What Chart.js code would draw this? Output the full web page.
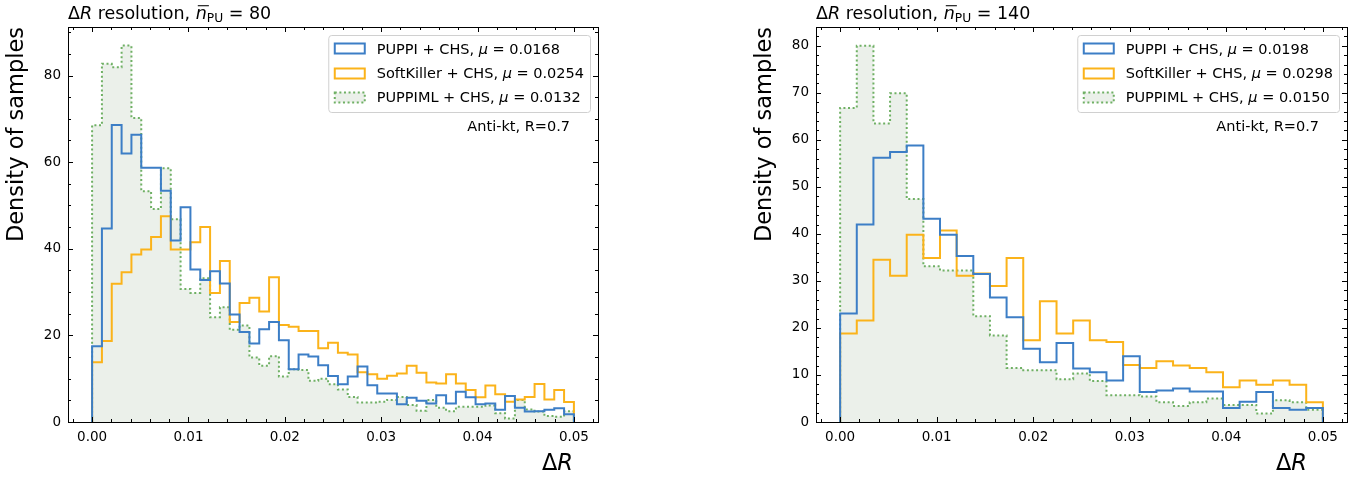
<!DOCTYPE html>
<html>
<head>
<meta charset="utf-8">
<title>ΔR resolution</title>
<script src="https://cdn.jsdelivr.net/npm/chart.js@4.4.1/dist/chart.umd.min.js"></script>
<style>
  body { margin: 0; background: #fff; }
  #wrap { position: relative; width: 1366px; height: 477px; overflow: hidden; }
  #wrap canvas { position: absolute; top: 0; }
</style>
</head>
<body>
<div id="wrap">
  <canvas id="pu80" width="683" height="477" style="left:0"></canvas>
  <canvas id="pu140" width="618" height="477" style="left:748px"></canvas>
</div>
<script>
const FAMILY = '"DejaVu Sans", sans-serif';

// histogram range (bins are equal width between these edges)
const rangeLo = 0;
const rangeHi = 0.05;

const seriesNames = ['PUPPI + CHS', 'SoftKiller + CHS', 'PUPPIML + CHS'];
const seriesColors = ['#3c7ec6', '#fbb31a', '#6fb064'];
const fillGreen = '#ebf0ea';

// <n_PU> = 80, 49 bins
const puppi80 = [17.5, 44.7, 68.6, 62, 66.3, 58.7, 58.7, 53.4, 41.9, 49.6,
  35.2, 32.8, 34.8, 32, 24.8, 20.8, 18.1, 21.4, 23.1, 18.9,
  12.2, 15.6, 15.1, 13.1, 10.6, 8.7, 10.5, 12.8, 8.5, 6.6,
  6.6, 4.1, 5.6, 4.9, 4.3, 6.2, 4.3, 7, 5.7, 4.1,
  4.3, 2.8, 6, 3.3, 2.4, 2.5, 2.8, 3.2, 1.8];
const softKiller80 = [13.8, 18.7, 31.9, 34.6, 38.7, 39.8, 42.7, 47.5, 39.8, 39.8,
  41.5, 45, 29.8, 37.2, 23.1, 27.5, 28.7, 25.5, 33.4, 22.4,
  22, 21, 21, 17, 18.3, 16, 15.6, 11.5, 11, 10,
  10.7, 11.2, 13, 11.4, 9.1, 8.9, 11, 8.9, 7.4, 5.7,
  8.4, 6.4, 4.7, 5.2, 5.8, 8.8, 5.2, 7.4, 4.6];
const puppiml80 = [68.5, 82.7, 81.9, 86.9, 70.2, 53.3, 49.2, 58.6, 46.8, 30.7,
  29.8, 33.2, 24.2, 26.5, 21.3, 22.3, 14.9, 13, 15.2, 10.5,
  12.2, 12, 9.5, 10, 8.7, 7.5, 5.8, 4.5, 4.5, 4.7,
  5.1, 5.8, 3.9, 2.6, 5.1, 3.3, 2.5, 3.5, 3.5, 3.5,
  3.8, 2, 0.8, 5.1, 2.9, 2.4, 1.4, 1.2, 2.5];
const means80 = ['0.0168', '0.0254', '0.0132'];

// <n_PU> = 140, 29 bins
const puppi140 = [23.1, 42, 56.2, 57.4, 58.8, 43.2, 39.8, 35.3, 31.5, 26.5,
  22.3, 15.6, 12.7, 16.8, 11.4, 10.6, 8.8, 14, 6.4, 6.7,
  7.1, 6.5, 6.5, 3, 4.3, 6.4, 3, 2.6, 3];
const softKiller140 = [18.8, 21.6, 34.5, 31.1, 39.8, 34.9, 40.7, 31.1, 31.6, 28.9,
  34.9, 17.4, 25.7, 18.8, 21.6, 17.4, 17, 12.1, 11.5, 12.9,
  12, 11.5, 10.6, 7.4, 8.8, 7.9, 8.8, 7.9, 4.2];
const puppiml140 = [66.8, 80, 63.5, 69.9, 47.4, 33.1, 32.2, 32.2, 22.5, 18.4,
  11.5, 11, 11, 9.1, 10.3, 8.7, 5.7, 5.7, 5.4, 4.2,
  3.4, 4.2, 5, 3.6, 3.6, 1.8, 4.6, 4.2, 2.6];
const means140 = ['0.0198', '0.0298', '0.0150'];

// axis ticks
const xTicks = [0, 0.01, 0.02, 0.03, 0.04, 0.05];
const xMinor = [-0.002, 0, 0.002, 0.004, 0.006, 0.008, 0.01, 0.012, 0.014, 0.016, 0.018, 0.02,
  0.022, 0.024, 0.026, 0.028, 0.03, 0.032, 0.034, 0.036, 0.038, 0.04, 0.042, 0.044,
  0.046, 0.048, 0.05, 0.052];
const yTicks80 = [0, 20, 40, 60, 80];
const yMinor80 = [0, 5, 10, 15, 20, 25, 30, 35, 40, 45, 50, 55, 60, 65, 70, 75, 80, 85, 90];
const yTicks140 = [0, 10, 20, 30, 40, 50, 60, 70, 80];
const yMinor140 = [0, 2, 4, 6, 8, 10, 12, 14, 16, 18, 20, 22, 24, 26, 28, 30, 32, 34, 36, 38, 40,
  42, 44, 46, 48, 50, 52, 54, 56, 58, 60, 62, 64, 66, 68, 70, 72, 74, 76, 78, 80, 82];

// outline of a histogram as step points (left edges + closing drop)
function histSteps(heights) {
  const n = heights.length;
  const w = (rangeHi - rangeLo) / n;
  const pts = [{ x: rangeLo, y: 0 }];
  heights.forEach((h, i) => pts.push({ x: rangeLo + i * w, y: h }));
  pts.push({ x: rangeHi, y: heights[n - 1] }, { x: rangeHi, y: 0 });
  return pts;
}

function fontStr(size, italic) {
  return (italic ? 'italic ' : '') + size + 'px ' + FAMILY;
}

// draws text made of plain / italic / subscript / overlined pieces
function drawRich(ctx, x, y, segs, size, align) {
  const parts = segs.map(s => {
    const sz = s.sub ? size * 0.7 : size;
    const f = fontStr(sz, s.it);
    ctx.font = f;
    return Object.assign({}, s, { f: f, w: ctx.measureText(s.t).width });
  });
  const total = parts.reduce((a, p) => a + p.w, 0);
  let cx = align === 'right' ? x - total : x;
  ctx.textAlign = 'left';
  ctx.textBaseline = 'alphabetic';
  parts.forEach(p => {
    ctx.font = p.f;
    ctx.fillText(p.t, cx, y + (p.sub ? size * 0.22 : 0));
    if (p.bar) ctx.fillRect(cx + size * 0.12, y - size * 0.76, p.w, Math.max(1, size * 0.06));
    cx += p.w;
  });
  return total;
}

function richWidth(ctx, segs, size) {
  return segs.reduce((a, s) => {
    ctx.font = fontStr(s.sub ? size * 0.7 : size, s.it);
    return a + ctx.measureText(s.t).width;
  }, 0);
}

function makePanel(canvasId, cfg) {
  const panelDecor = {
    id: 'panelDecor',
    afterDraw(chart) {
      const ctx = chart.ctx;
      const a = chart.chartArea;
      const xs = chart.scales.x, ys = chart.scales.y;
      ctx.save();
      ctx.strokeStyle = '#000';
      ctx.fillStyle = '#000';
      ctx.lineWidth = 1;

      // frame
      ctx.strokeRect(Math.round(a.left) + 0.5, Math.round(a.top) + 0.5,
        Math.round(a.right - a.left), Math.round(a.bottom - a.top));

      // inward ticks on all four sides
      const tick = (vals, len, horiz) => {
        ctx.beginPath();
        vals.forEach(v => {
          if (horiz) {
            const px = Math.round(xs.getPixelForValue(v)) + 0.5;
            if (px < a.left || px > a.right) return;
            ctx.moveTo(px, a.bottom); ctx.lineTo(px, a.bottom - len);
            ctx.moveTo(px, a.top); ctx.lineTo(px, a.top + len);
          } else {
            const py = Math.round(ys.getPixelForValue(v)) + 0.5;
            if (py < a.top || py > a.bottom) return;
            ctx.moveTo(a.left, py); ctx.lineTo(a.left + len, py);
            ctx.moveTo(a.right, py); ctx.lineTo(a.right - len, py);
          }
        });
        ctx.stroke();
      };
      tick(xMinor, 3, true);
      tick(xTicks, 5, true);
      tick(cfg.yMinor, 3, false);
      tick(cfg.yTicks, 5, false);

      // panel title
      drawRich(ctx, a.left, 18.5, [
        { t: 'Δ' }, { t: 'R', it: true }, { t: ' resolution, ' },
        { t: 'n', it: true, bar: true }, { t: 'PU', sub: true }, { t: ' = ' + cfg.npu }
      ], 17.5, 'left');

      // x axis label
      drawRich(ctx, a.right - cfg.xLabelInset, 470, [{ t: 'Δ' }, { t: 'R', it: true }], 22.5, 'right');

      // legend
      const fs = 14.5;
      const rows = seriesNames.map((name, i) => [
        { t: name + ', ' }, { t: 'μ', it: true }, { t: ' = ' + cfg.means[i] }
      ]);
      const maxW = Math.max.apply(null, rows.map(r => richWidth(ctx, r, fs)));
      const bw = 48.5 + maxW + 6;
      const bx = a.right - 8 - bw, by = a.top + 8, bh = 77;
      ctx.beginPath();
      ctx.roundRect(bx + 0.5, by + 0.5, bw, bh, 3);
      ctx.fillStyle = 'rgba(255,255,255,0.85)';
      ctx.fill();
      ctx.strokeStyle = '#d0d0d0';
      ctx.stroke();
      rows.forEach((r, i) => {
        const cy = a.top + 21.3 + i * 24.2;
        const hx = bx + 6.5, hy = Math.round(cy - 5) + 0.5;
        ctx.lineWidth = 2;
        if (i === 2) {
          ctx.fillStyle = fillGreen;
          ctx.fillRect(hx, hy, 30, 10);
          ctx.setLineDash([2, 2.6]);
        }
        ctx.strokeStyle = seriesColors[i];
        ctx.strokeRect(hx, hy, 30, 10);
        ctx.setLineDash([]);
        ctx.fillStyle = '#000';
        drawRich(ctx, bx + 48.5, cy + fs * 0.36, r, fs, 'left');
      });

      ctx.fillStyle = '#000';
      ctx.font = fontStr(fs);
      ctx.textAlign = 'right';
      ctx.textBaseline = 'middle';
      ctx.fillText('Anti-kt, R=0.7', a.right - 28, a.top + 100);
      ctx.restore();
    }
  };

  // 'before' in Chart.js: run horizontally at the previous height, then drop
  const line = (data, i) => ({
    label: seriesNames[i],
    data: histSteps(data),
    stepped: 'before',
    borderColor: seriesColors[i],
    borderWidth: 2,
    pointRadius: 0,
    fill: false
  });
  const green = line(cfg.series[2], 2);
  green.fill = 'origin';
  green.backgroundColor = fillGreen;
  green.borderDash = [2, 2.6];

  return new Chart(document.getElementById(canvasId), {
    type: 'line',
    data: {
      datasets: [line(cfg.series[0], 0), line(cfg.series[1], 1), green]
    },
    options: {
      responsive: false,
      animation: false,
      events: [],
      layout: { padding: { left: 0, right: cfg.padRight, top: 27, bottom: 0 } },
      plugins: { legend: { display: false }, tooltip: { enabled: false } },
      scales: {
        x: {
          type: 'linear',
          min: -0.0025,
          max: 0.0525,
          afterBuildTicks: s => { s.ticks = xTicks.map(v => ({ value: v })); },
          afterFit: s => { s.height = 55; },
          grid: { display: false, drawTicks: false },
          border: { display: false },
          ticks: {
            color: '#000', padding: 7, maxRotation: 0, autoSkip: false,
            font: { family: FAMILY, size: 13.5 },
            callback: v => v.toFixed(2)
          }
        },
        y: {
          type: 'linear',
          min: 0,
          max: cfg.yMax,
          afterBuildTicks: s => { s.ticks = cfg.yTicks.map(v => ({ value: v })); },
          afterFit: s => { s.width = 68; },
          grid: { display: false, drawTicks: false },
          border: { display: false },
          ticks: { color: '#000', padding: 7, font: { family: FAMILY, size: 13.5 } },
          title: {
            display: true, text: 'Density of samples', align: 'end', color: '#000',
            font: { family: FAMILY, size: 22.5 }, padding: { top: 4, bottom: 0 }
          }
        }
      }
    },
    plugins: [panelDecor]
  });
}

makePanel('pu80', {
  series: [puppi80, softKiller80, puppiml80],
  means: means80, npu: 80, yMax: 91.2,
  yTicks: yTicks80, yMinor: yMinor80,
  padRight: 85, xLabelInset: 25
});
makePanel('pu140', {
  series: [puppi140, softKiller140, puppiml140],
  means: means140, npu: 140, yMax: 84,
  yTicks: yTicks140, yMinor: yMinor140,
  padRight: 19, xLabelInset: 40
});
</script>
</body>
</html>
